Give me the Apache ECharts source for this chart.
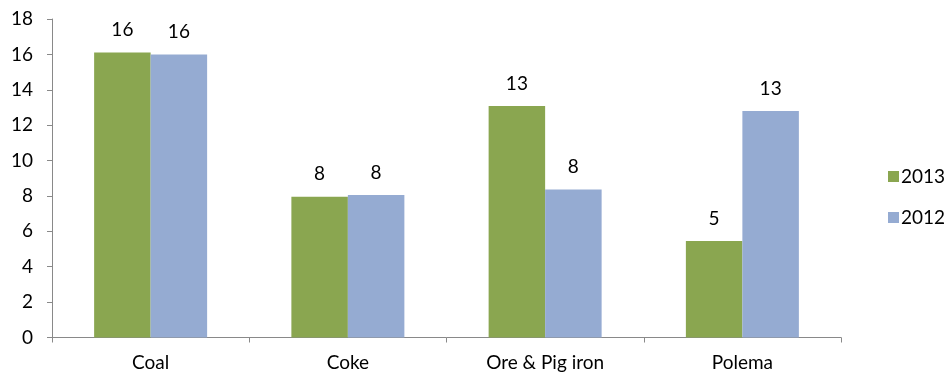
<!DOCTYPE html>
<html>
<head>
<meta charset="utf-8">
<script src="https://cdn.jsdelivr.net/npm/echarts@6/dist/echarts.min.js"></script>
<style>
  html, body { margin: 0; padding: 0; background: #fff; }
  #chart { width: 945px; height: 375px; }
</style>
</head>
<body>
<div id="chart"></div>
<script>
// Output by product group, two years
const categories = ['Coal', 'Coke', 'Ore & Pig iron', 'Polema'];
const values2013 = [16.1, 7.95, 13.08, 5.45];
const values2012 = [16.0, 8.05, 8.37, 12.8];
const yTicks = { min: 0, max: 18, interval: 2 };

const font = 'Lato, "Open Sans", "Liberation Sans", sans-serif';
const fontSize = 19;
const axisGrey = '#898989';

const chart = echarts.init(document.getElementById('chart'), null, { renderer: 'canvas' });

const labelCfg = {
  show: true,
  position: 'top',
  distance: 13,
  color: '#000',
  fontFamily: font,
  fontSize: fontSize,
  formatter: p => Math.round(p.value)
};

chart.setOption({
  animation: false,
  textStyle: { fontFamily: font },
  grid: { left: 52, right: 104, top: 19, bottom: 37.5, containLabel: false },
  legend: {
    orient: 'vertical',
    left: 883,
    top: 162,
    itemWidth: 11,
    itemHeight: 11,
    itemGap: 22,
    icon: 'rect',
    textStyle: { fontSize: fontSize, color: '#000', fontFamily: font, padding: [0, 0, 0, -3] },
    data: ['2013', '2012']
  },
  xAxis: {
    type: 'category',
    data: categories,
    axisLine: { lineStyle: { color: axisGrey, width: 1 } },
    axisTick: { show: true, length: 5, lineStyle: { color: axisGrey } },
    axisLabel: { color: '#000', fontSize: fontSize, fontFamily: font, margin: 16 },
    splitLine: { show: false }
  },
  yAxis: {
    type: 'value',
    min: yTicks.min,
    max: yTicks.max,
    interval: yTicks.interval,
    axisLine: { show: true, lineStyle: { color: axisGrey, width: 1 } },
    axisTick: { show: true, length: 5, lineStyle: { color: axisGrey } },
    axisLabel: { color: '#000', fontSize: fontSize, fontFamily: font, margin: 19 },
    splitLine: { show: false }
  },
  series: [
    {
      name: '2013',
      type: 'bar',
      data: values2013,
      barWidth: 56.5,
      barGap: '0%',
      itemStyle: { color: '#8aa650' },
      label: labelCfg
    },
    {
      name: '2012',
      type: 'bar',
      data: values2012,
      barWidth: 56.5,
      barGap: '0%',
      itemStyle: { color: '#95abd2' },
      label: labelCfg
    }
  ]
});
</script>
</body>
</html>
